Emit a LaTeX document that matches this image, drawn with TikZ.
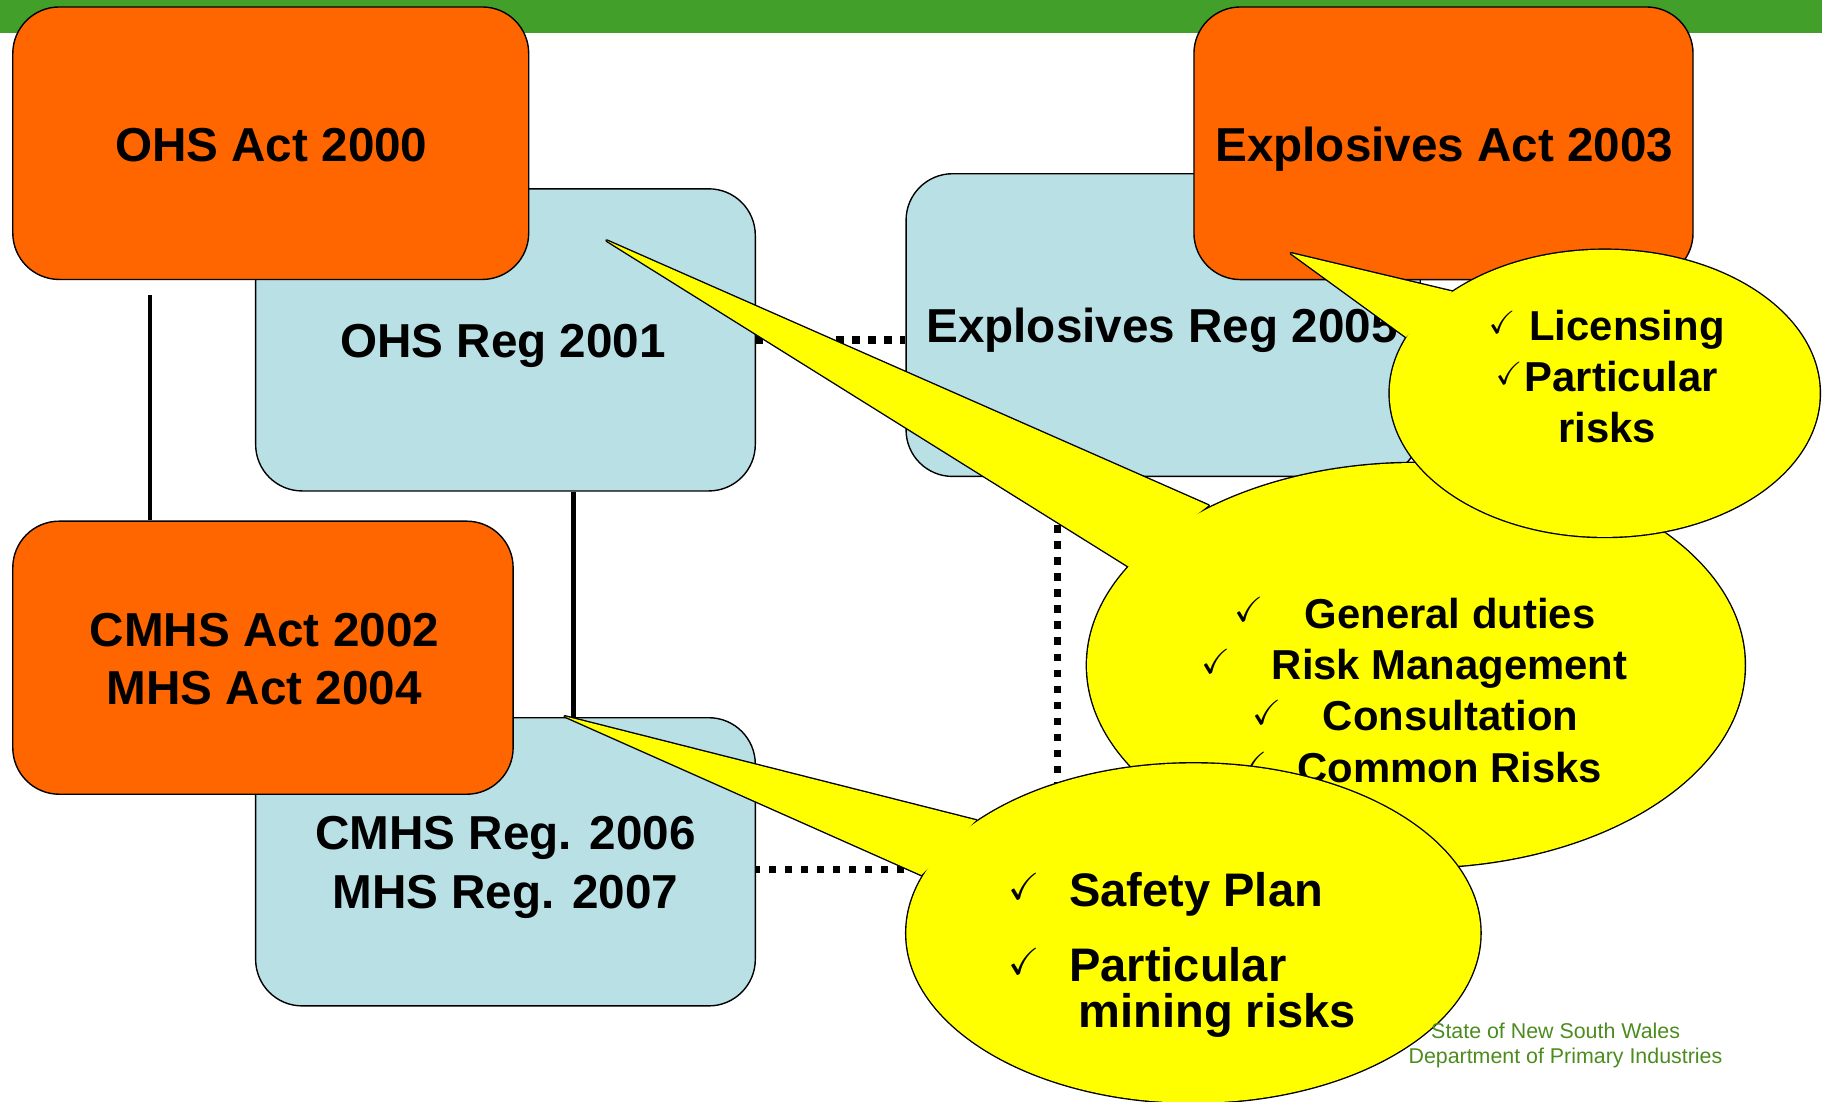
\documentclass[tikz,border=0pt]{standalone}
\usepackage{amssymb}
\usepackage{graphicx}
\usepackage{fontspec}
\setmainfont{Liberation Sans}
\definecolor{barGreen}{RGB}{66,160,42}
\definecolor{actOrange}{RGB}{255,102,0}
\definecolor{regBlue}{RGB}{185,224,228}
\definecolor{bubYellow}{RGB}{255,255,0}
\definecolor{footGreen}{RGB}{76,140,30}
\newcommand{\myck}[1]{\resizebox{#1}{!}{\checkmark}}
\tikzset{
  boxbase/.style={draw=black, line width=1.2pt, rounded corners=40pt, inner sep=0pt},
  actbox/.style={boxbase, fill=actOrange},
  regbox/.style={boxbase, fill=regBlue},
  boxtext/.style={font=\fontsize{41}{49}\selectfont\bfseries, inner sep=0pt, anchor=base},
  bubtext/.style={font=\fontsize{36}{44}\selectfont\bfseries, inner sep=0pt, anchor=base west},
  bigtext/.style={font=\fontsize{40.5}{44}\selectfont\bfseries, inner sep=0pt, anchor=base west},
  tickmark/.style={inner sep=0pt, anchor=center},
  solidlink/.style={line width=4pt},
  dotlink/.style={line width=6.3pt, dash pattern=on 6.3pt off 7.5pt},
  bubstroke/.style={draw=black, line width=2.4pt, line join=round},
  bubfill/.style={fill=bubYellow},
  footer/.style={font=\fontsize{18.4}{22}\selectfont, text=footGreen, inner sep=0pt, anchor=base west},
}
\begin{document}
\begin{tikzpicture}[x=1pt, y=-1pt]
\useasboundingbox (0,0) rectangle (1568,948);
% top bar
\fill[barGreen] (0,0) rectangle (1568,28.7);

% boxes
\node[regbox, minimum width=430pt, minimum height=260pt] (OHSReg) at (435,292.5) {};
\node[actbox, minimum width=444pt, minimum height=234.5pt] (OHSAct) at (233,123.25) {};
\node[regbox, minimum width=442.5pt, minimum height=260.5pt] (ExplReg) at (1001,279.75) {};
\node[actbox, minimum width=429.5pt, minimum height=234.6pt] (ExplAct) at (1242.25,123.3) {};
\node[regbox, minimum width=430pt, minimum height=248pt] (CMHSReg) at (435,741.65) {};
\node[actbox, minimum width=430.6pt, minimum height=235pt] (CMHSAct) at (226.3,566) {};

% box texts
\node[boxtext] (tOHSAct) at (233.5,139) {OHS Act 2000};
\node[boxtext] (tOHSReg) at (433,308) {OHS Reg 2001};
\node[boxtext] (tExplReg) at (1000,294.5) {Explosives Reg 2005};
\node[boxtext] (tExplAct) at (1243,139) {Explosives Act 2003};
\node[boxtext] (tCMHSAct1) at (227.5,556.6) {CMHS Act 2002};
\node[boxtext] (tCMHSAct2) at (227.5,606) {MHS Act 2004};
\node[boxtext] (tCMHSReg1) at (435,731) {CMHS Reg. 2006};
\node[boxtext] (tCMHSReg2) at (435,781.6) {MHS Reg. 2007};

% connectors
\coordinate (s1) at (129,254);
\coordinate (xs2) at (493.5,0);
\coordinate (xd) at (910,0);
\coordinate (yd) at (0,748);
\draw[solidlink] (s1) -- (s1 |- CMHSAct.north);
\draw[solidlink] (OHSReg.south -| xs2) -- (CMHSReg.north -| xs2);
\draw[dotlink] (OHSReg.east) -- (OHSReg.east -| ExplReg.west);
\draw[dotlink] (ExplReg.south -| xd) -- (xd |- yd) -- (CMHSReg.east |- yd);

% big callout
\coordinate (bigC) at (1218.5,572.5);
\coordinate (bigTip) at (522,207);
\coordinate (bigB1) at (1040,435);
\coordinate (bigB2) at (972,488);
\path[bubstroke] (bigTip) -- (bigB1) -- (bigB2) -- cycle;
\path[bubstroke] (bigC) ellipse [x radius=283pt, y radius=174pt];
\path[bubfill] (bigTip) -- (bigB1) -- (bigB2) -- cycle;
\path[bubfill] (bigC) ellipse [x radius=283pt, y radius=174pt];
\node[tickmark] (k1) at (1075,524.5) {\myck{25pt}};
\node[tickmark] (k2) at (1046.5,569) {\myck{25pt}};
\node[tickmark] (k3) at (1090,613) {\myck{25pt}};
\node[tickmark] (k4) at (1078,657.5) {\myck{25pt}};
\node[bubtext] (g1) at (1122.7,540.5) {General duties};
\node[bubtext] (g2) at (1094.3,584.5) {Risk Management};
\node[bubtext] (g3) at (1138.2,629) {Consultation};
\node[bubtext] (g4) at (1116.5,673) {Common Risks};

% licensing callout
\coordinate (licC) at (1381,338.5);
\coordinate (licTip) at (1111,218);
\coordinate (licB1) at (1250,251);
\coordinate (licB2) at (1210,290);
\path[bubstroke] (licTip) -- (licB1) -- (licB2) -- cycle;
\path[bubstroke] (licC) ellipse [x radius=185pt, y radius=123.5pt];
\path[bubfill] (licTip) -- (licB1) -- (licB2) -- cycle;
\path[bubfill] (licC) ellipse [x radius=185pt, y radius=123.5pt];
\node[tickmark] (lk1) at (1292.5,277.5) {\myck{23pt}};
\node[tickmark] (lk2) at (1298.5,321.5) {\myck{23pt}};
\node[bubtext] (l1) at (1316,292.8) {Licensing};
\node[bubtext] (l2) at (1312,336.8) {Particular};
\node[bubtext] (l3) at (1341,381) {risks};

% safety callout
\coordinate (safC) at (1027,803);
\coordinate (safTip) at (486,616.5);
\coordinate (safB1) at (840,706);
\coordinate (safB2) at (793,753);
\path[bubstroke] (safTip) -- (safB1) -- (safB2) -- cycle;
\path[bubstroke] (safC) ellipse [x radius=247pt, y radius=146pt];
\path[bubfill] (safTip) -- (safB1) -- (safB2) -- cycle;
\path[bubfill] (safC) ellipse [x radius=247pt, y radius=146pt];
\node[tickmark] (sk1) at (881,763) {\myck{27pt}};
\node[tickmark] (sk2) at (881,827) {\myck{27pt}};
\node[bigtext] (s1t) at (920,780) {Safety Plan};
\node[bigtext] (s2t) at (920,845) {Particular};
\node[bigtext] (s3t) at (928,884) {mining risks};

% footer
\node[footer] (f1) at (1231.5,894) {State of New South Wales};
\node[footer] (f2) at (1212,915.6) {Department of Primary Industries};
\end{tikzpicture}
\end{document}
